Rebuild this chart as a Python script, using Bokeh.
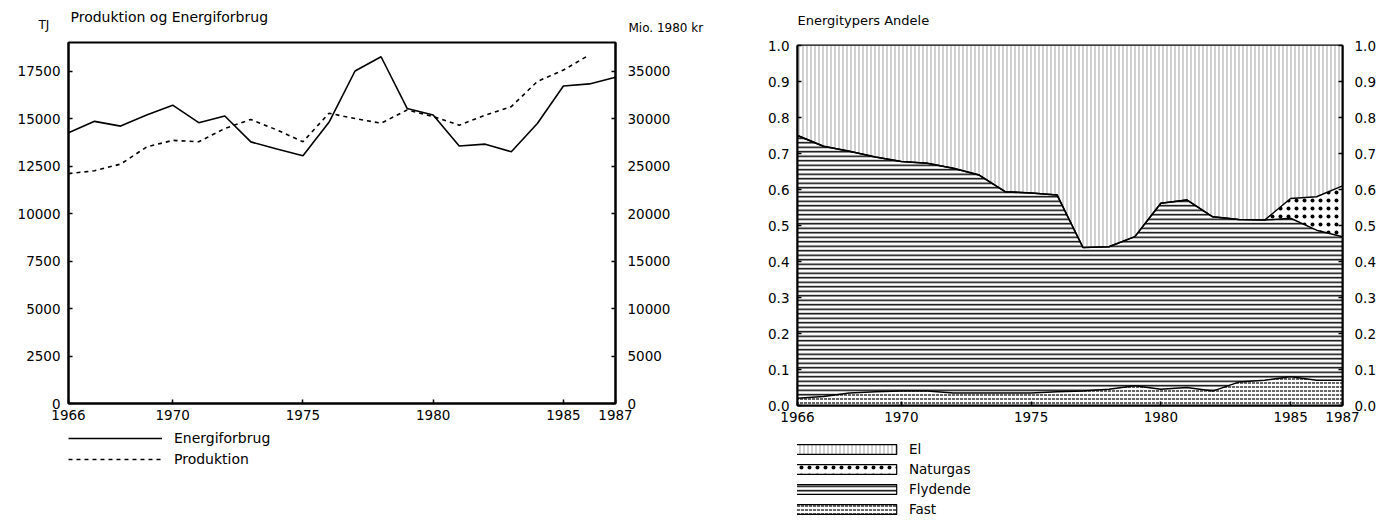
import numpy as np
from bokeh.plotting import figure
from bokeh.models import (LinearAxis, Range1d, FixedTicker, Legend, LegendItem,
                          Label, NumeralTickFormatter)
from bokeh.layouts import row, column
from bokeh.embed import file_html
from bokeh.resources import INLINE

FONT = "DejaVu Sans"

# ---------------- data ----------------
years = list(range(1966, 1988))
energiforbrug = [14250, 14850, 14600, 15180, 15700, 14780, 15130, 13770, 13390, 13040,
                 14800, 17500, 18250, 15530, 15180, 13550, 13650, 13250, 14740, 16710,
                 16820, 17170]
prod_years = list(range(1966, 1987))
produktion = [24200, 24500, 25200, 27000, 27700, 27550, 28950, 29900, 28800, 27550,
              30550, 30000, 29500, 30900, 30200, 29300, 30350, 31250, 33900, 35100,
              36700]

fast = [0.020, 0.025, 0.035, 0.038, 0.040, 0.040, 0.035, 0.035, 0.035, 0.035, 0.038,
        0.040, 0.045, 0.055, 0.045, 0.050, 0.040, 0.065, 0.070, 0.080, 0.070, 0.070]
flydende = [0.730, 0.695, 0.671, 0.652, 0.638, 0.633, 0.624, 0.605, 0.559, 0.555, 0.547,
            0.399, 0.396, 0.414, 0.517, 0.521, 0.484, 0.452, 0.445, 0.440, 0.417, 0.399]
naturgas = [0.0, 0.0, 0.0, 0.0, 0.0, 0.0, 0.0, 0.0, 0.0, 0.0, 0.0,
            0.0, 0.0, 0.0, 0.0, 0.0, 0.0, 0.0, 0.0, 0.055, 0.093, 0.141]
el = [0.250, 0.280, 0.294, 0.310, 0.322, 0.327, 0.341, 0.360, 0.406, 0.410, 0.415,
      0.561, 0.559, 0.531, 0.438, 0.429, 0.476, 0.483, 0.485, 0.425, 0.420, 0.390]

x_ticks = [1966, 1970, 1975, 1980, 1985, 1987]
left_ticks = [0, 2500, 5000, 7500, 10000, 12500, 15000, 17500]
right_ticks = [0, 5000, 10000, 15000, 20000, 25000, 30000, 35000]
share_ticks = [0.0, 0.1, 0.2, 0.3, 0.4, 0.5, 0.6, 0.7, 0.8, 0.9, 1.0]

TXT = "14px"
NAN = [float("nan")]


def style_axis(ax, standoff=8):
    ax.major_label_text_font = FONT
    ax.major_label_text_font_size = "13.5px"
    ax.major_label_text_color = "black"
    ax.axis_line_color = "black"
    ax.axis_line_width = 2
    ax.major_tick_in = 4
    ax.major_tick_out = 0
    ax.major_tick_line_width = 1.5
    ax.minor_tick_line_color = None
    ax.major_label_standoff = standoff


def blank(width, height):
    f = figure(width=width, height=height, output_backend="svg", toolbar_location=None,
               x_range=Range1d(0, width), y_range=Range1d(0, height),
               x_axis_location=None, y_axis_location=None,
               min_border=0, min_border_left=0, min_border_right=0,
               min_border_top=0, min_border_bottom=0)
    f.grid.visible = False
    f.outline_line_color = None
    f.background_fill_color = "white"
    f.border_fill_color = "white"
    return f


def text(f, x, y, s, size=TXT):
    f.add_layout(Label(x=x, y=y, text=s, text_font=FONT, text_font_size=size,
                       text_baseline="middle", text_align="left", text_color="black"))


W1, W2 = 740, 643
H_HEAD = 36
H_P1, H_P2 = 393, 395

# ---------------- header across both charts ----------------
head = blank(W1 + W2, H_HEAD)
text(head, 70, 20, "Produktion og Energiforbrug")
text(head, 38, 12, "TJ", size="12px")
text(head, 628, 8.5, "Mio. 1980 kr", size="12px")
text(head, W1 + 57, 16, "Energitypers Andele", size="13px")

# ---------------- left: chart ----------------
p1 = figure(width=W1, height=H_P1, output_backend="svg", toolbar_location=None,
            x_range=Range1d(1966, 1987), y_range=Range1d(0, 19000),
            min_border_left=68, min_border_right=125, min_border_top=6,
            min_border_bottom=26)
p1.extra_y_ranges = {"right": Range1d(0, 38000)}
p1.xgrid.visible = False
p1.ygrid.visible = False
p1.outline_line_color = "black"
p1.outline_line_width = 2
p1.background_fill_color = "white"
p1.border_fill_color = "white"

p1.xaxis.ticker = FixedTicker(ticks=x_ticks)
p1.yaxis.ticker = FixedTicker(ticks=left_ticks)
raxis = LinearAxis(y_range_name="right", ticker=FixedTicker(ticks=right_ticks))
p1.add_layout(raxis, "right")
for ax in [p1.xaxis[0], p1.yaxis[0], raxis]:
    style_axis(ax)
p1.xaxis[0].major_label_standoff = 6
raxis.major_label_standoff = 12

p1.line(years, energiforbrug, line_color="black", line_width=1.6)
p1.line(prod_years, produktion, y_range_name="right", line_color="black",
        line_width=1.6, line_dash="4 4")

# ---------------- left: legend ----------------
H_LEG1 = 519 - H_HEAD - H_P1
l1 = blank(W1, H_LEG1)
r_e = l1.line(x=NAN, y=NAN, line_color="black", line_width=1.6)
r_p = l1.line(x=NAN, y=NAN, line_color="black", line_width=1.6, line_dash="4 4")
leg1 = Legend(items=[LegendItem(label="Energiforbrug", renderers=[r_e]),
                     LegendItem(label="Produktion", renderers=[r_p])],
              location=(0, H_LEG1 - 38), orientation="vertical", glyph_width=94,
              glyph_height=12, label_height=12, spacing=5, padding=1, margin=0,
              label_standoff=12, label_text_font=FONT, label_text_font_size=TXT,
              label_text_color="black",
              border_line_color=None, background_fill_alpha=0)
l1.add_layout(leg1, "center")

# ---------------- right: chart ----------------
p2 = figure(width=W2, height=H_P2, output_backend="svg", toolbar_location=None,
            x_range=Range1d(1966, 1987), y_range=Range1d(0, 1.0),
            min_border_left=57, min_border_right=41, min_border_top=9,
            min_border_bottom=26)
p2.xgrid.visible = False
p2.ygrid.visible = False
p2.outline_line_color = "black"
p2.outline_line_width = 2
p2.background_fill_color = "white"
p2.border_fill_color = "white"

p2.xaxis.ticker = FixedTicker(ticks=x_ticks)
p2.yaxis.ticker = FixedTicker(ticks=share_ticks)
p2.yaxis.formatter = NumeralTickFormatter(format="0.0")
raxis2 = LinearAxis(ticker=FixedTicker(ticks=share_ticks),
                    formatter=NumeralTickFormatter(format="0.0"))
p2.add_layout(raxis2, "right")
for ax in [p2.xaxis[0], p2.yaxis[0], raxis2]:
    style_axis(ax)
p2.xaxis[0].major_label_standoff = 6
raxis2.major_label_standoff = 12

styles = {
    "Fast": dict(hatch_pattern="horizontal_dash", hatch_scale=4, hatch_weight=1.2),
    "Flydende": dict(hatch_pattern="horizontal_line", hatch_scale=4.5, hatch_weight=1.5),
    "Naturgas": dict(hatch_pattern="dot", hatch_scale=8, hatch_weight=1.0),
    "El": dict(hatch_pattern="vertical_line", hatch_scale=4, hatch_weight=0.6,
               hatch_alpha=0.6),
}

fa = np.array(fast)
fl = np.array(flydende)
ng = np.array(naturgas)
e = np.array(el)
b0 = np.zeros_like(fa)
b1 = fa
b2 = fa + fl
b3 = fa + fl + ng
b4 = fa + fl + ng + e
layers = [("Fast", b0, b1), ("Flydende", b1, b2), ("Naturgas", b2, b3), ("El", b3, b4)]
for name, lo, hi in layers:
    p2.varea(x=years, y1=lo, y2=hi, fill_color="white", hatch_color="black",
             **styles[name])
for bnd in [b1, b2, b3]:
    p2.line(years, bnd, line_color="black", line_width=1.5)

# ---------------- right: legend ----------------
H_LEG2 = 519 - H_HEAD - H_P2
l2 = blank(W2, H_LEG2)
legend_items = []
for name in ["El", "Naturgas", "Flydende", "Fast"]:
    r = l2.quad(left=NAN, right=NAN, top=NAN, bottom=NAN, fill_color="white",
                hatch_color="black", line_color="black", line_width=1.2,
                **styles[name])
    legend_items.append(LegendItem(label=name, renderers=[r]))
leg2 = Legend(items=legend_items, location=(-16, 2), orientation="vertical",
              glyph_width=128, glyph_height=12, label_height=12, spacing=4,
              padding=2, margin=0, label_standoff=0, label_text_font=FONT,
              label_text_font_size="13.5px", label_text_color="black",
              border_line_color=None, background_fill_alpha=0)
l2.add_layout(leg2, "center")

layout = column(head, row(column(p1, l1), column(p2, l2)))
open("out.html", "w").write(file_html(layout, INLINE))
